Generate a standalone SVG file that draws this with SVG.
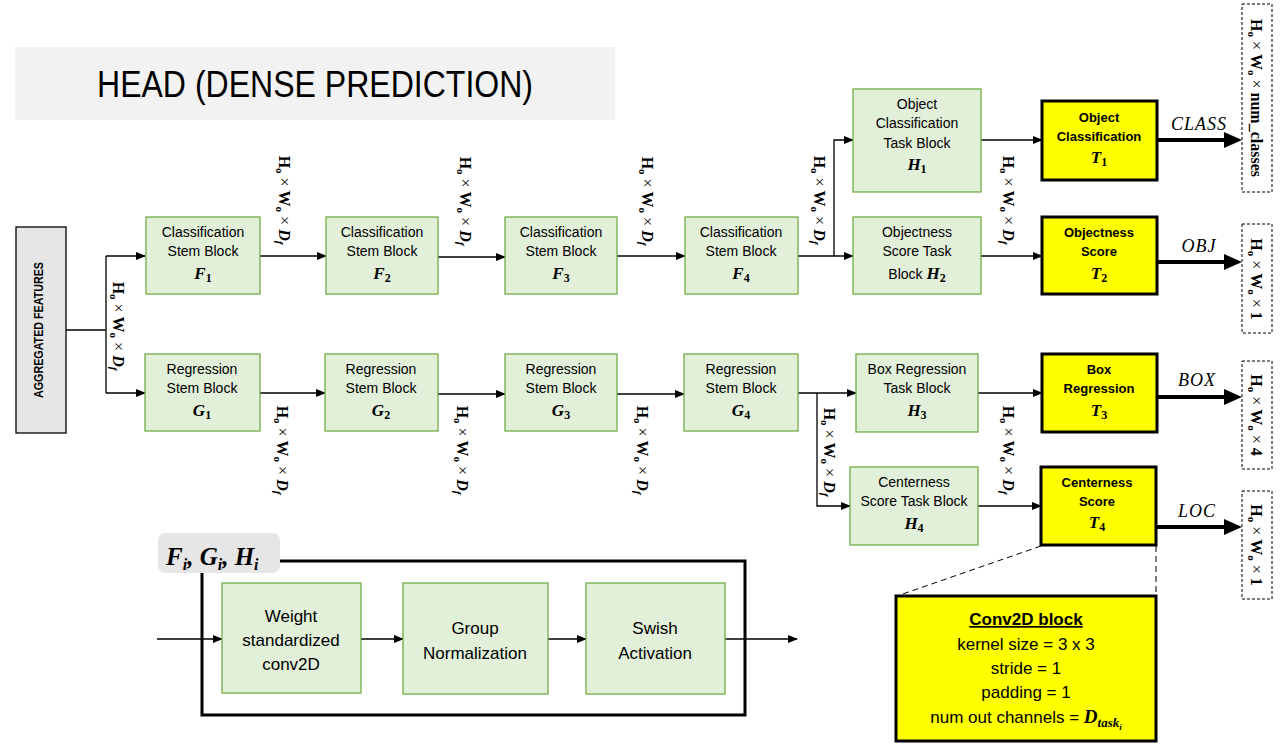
<svg xmlns="http://www.w3.org/2000/svg" width="1288" height="749" viewBox="0 0 1288 749">
<style>
.bg{fill:#ffffff}
.g{fill:#e2efd9;stroke:#70ad47;stroke-width:1.3}
.y{fill:#ffff00;stroke:#000;stroke-width:3}
.t{font-family:"Liberation Sans",Arial,sans-serif;font-size:14px;fill:#000;text-anchor:middle}
.tb{font-family:"Liberation Sans",Arial,sans-serif;font-size:13px;font-weight:bold;fill:#000;text-anchor:middle}
.m{font-family:"Liberation Serif","DejaVu Serif",serif;font-weight:bold;font-style:italic;font-size:17px}
.ms{font-size:12px;font-style:normal}
.dim{font-family:"Liberation Serif","DejaVu Serif",serif;font-weight:bold;font-size:16px;fill:#000;text-anchor:middle}
.s{font-size:11px}
.x{font-weight:normal}
.i{font-style:italic}
.ln{fill:none;stroke:#000;stroke-width:1.3}
.thick{fill:none;stroke:#000;stroke-width:4}
.dash{fill:#fff;stroke:#000;stroke-width:1;stroke-dasharray:3,2}
.lab{font-family:"Liberation Serif","DejaVu Serif",serif;font-style:italic;font-size:18px;fill:#000;text-anchor:middle;letter-spacing:1px}
.big{font-family:"Liberation Sans",Arial,sans-serif;font-size:17px;fill:#000;text-anchor:middle}
</style>
<defs>
<marker id="a" markerWidth="10" markerHeight="8" refX="9" refY="4" orient="auto" markerUnits="userSpaceOnUse"><path d="M0,0 L10,4 L0,8 z" fill="#000"/></marker>
<marker id="A" markerWidth="18" markerHeight="16" refX="4" refY="8" orient="auto" markerUnits="userSpaceOnUse"><path d="M0,0 L18,8 L0,16 z" fill="#000"/></marker>
</defs>
<rect class="bg" x="0" y="0" width="1288" height="749"/>

<g id="title">
<rect x="15" y="47" width="600" height="73" fill="#f2f2f2"/>
<text x="315" y="97" font-family="'Liberation Sans',Arial,sans-serif" font-size="37" text-anchor="middle" textLength="436" lengthAdjust="spacingAndGlyphs">HEAD (DENSE PREDICTION)</text>
</g>

<g id="connectors">
<path class="ln" d="M66,330 H106 M106,256 V393"/>
<path class="ln" d="M106,256 H145" marker-end="url(#a)"/>
<path class="ln" d="M106,393 H145" marker-end="url(#a)"/>
<path class="ln" d="M260,256 H326" marker-end="url(#a)"/>
<path class="ln" d="M438,257 H505" marker-end="url(#a)"/>
<path class="ln" d="M617,256 H685" marker-end="url(#a)"/>
<path class="ln" d="M798,256 H853" marker-end="url(#a)"/>
<path class="ln" d="M834,256 V140 H853" marker-end="url(#a)"/>
<path class="ln" d="M260,393 H325" marker-end="url(#a)"/>
<path class="ln" d="M438,394 H505" marker-end="url(#a)"/>
<path class="ln" d="M617,394 H684" marker-end="url(#a)"/>
<path class="ln" d="M798,393 H856" marker-end="url(#a)"/>
<path class="ln" d="M817,393 V506 H850" marker-end="url(#a)"/>
<path class="ln" d="M981,140 H1042" marker-end="url(#a)"/>
<path class="ln" d="M981,256 H1042" marker-end="url(#a)"/>
<path class="ln" d="M978,393 H1042" marker-end="url(#a)"/>
<path class="ln" d="M978,506 H1041" marker-end="url(#a)"/>
<path class="thick" d="M1157,140 H1228" marker-end="url(#A)"/>
<path class="thick" d="M1157,262 H1228" marker-end="url(#A)"/>
<path class="thick" d="M1157,397 H1228" marker-end="url(#A)"/>
<path class="thick" d="M1157,527 H1228" marker-end="url(#A)"/>
<path fill="none" stroke="#000" stroke-width="1" stroke-dasharray="6,4" d="M1041,546 L897,596 M1156,546 V596"/>
<path class="ln" d="M157,639 H222" marker-end="url(#a)"/>
<path class="ln" d="M361,639 H403" marker-end="url(#a)"/>
<path class="ln" d="M548,639 H586" marker-end="url(#a)"/>
<path class="ln" d="M725,639 H797" marker-end="url(#a)"/>

<text class="dim" transform="translate(113,326) rotate(90)">H<tspan class="s" dy="3">o</tspan><tspan class="x" dy="-3"> × </tspan>W<tspan class="s" dy="3">o</tspan><tspan class="x" dy="-3"> × </tspan><tspan class="i">D</tspan><tspan class="s i" dy="3">f</tspan></text>
<text class="dim" transform="translate(279,200) rotate(90)">H<tspan class="s" dy="3">o</tspan><tspan class="x" dy="-3"> × </tspan>W<tspan class="s" dy="3">o</tspan><tspan class="x" dy="-3"> × </tspan><tspan class="i">D</tspan><tspan class="s i" dy="3">f</tspan></text>
<text class="dim" transform="translate(460,201) rotate(90)">H<tspan class="s" dy="3">o</tspan><tspan class="x" dy="-3"> × </tspan>W<tspan class="s" dy="3">o</tspan><tspan class="x" dy="-3"> × </tspan><tspan class="i">D</tspan><tspan class="s i" dy="3">f</tspan></text>
<text class="dim" transform="translate(642,201) rotate(90)">H<tspan class="s" dy="3">o</tspan><tspan class="x" dy="-3"> × </tspan>W<tspan class="s" dy="3">o</tspan><tspan class="x" dy="-3"> × </tspan><tspan class="i">D</tspan><tspan class="s i" dy="3">f</tspan></text>
<text class="dim" transform="translate(814,200) rotate(90)">H<tspan class="s" dy="3">o</tspan><tspan class="x" dy="-3"> × </tspan>W<tspan class="s" dy="3">o</tspan><tspan class="x" dy="-3"> × </tspan><tspan class="i">D</tspan><tspan class="s i" dy="3">f</tspan></text>
<text class="dim" transform="translate(1003,200) rotate(90)">H<tspan class="s" dy="3">o</tspan><tspan class="x" dy="-3"> × </tspan>W<tspan class="s" dy="3">o</tspan><tspan class="x" dy="-3"> × </tspan><tspan class="i">D</tspan><tspan class="s i" dy="3">f</tspan></text>
<text class="dim" transform="translate(277,450) rotate(90)">H<tspan class="s" dy="3">o</tspan><tspan class="x" dy="-3"> × </tspan>W<tspan class="s" dy="3">o</tspan><tspan class="x" dy="-3"> × </tspan><tspan class="i">D</tspan><tspan class="s i" dy="3">f</tspan></text>
<text class="dim" transform="translate(457,450) rotate(90)">H<tspan class="s" dy="3">o</tspan><tspan class="x" dy="-3"> × </tspan>W<tspan class="s" dy="3">o</tspan><tspan class="x" dy="-3"> × </tspan><tspan class="i">D</tspan><tspan class="s i" dy="3">f</tspan></text>
<text class="dim" transform="translate(637,450) rotate(90)">H<tspan class="s" dy="3">o</tspan><tspan class="x" dy="-3"> × </tspan>W<tspan class="s" dy="3">o</tspan><tspan class="x" dy="-3"> × </tspan><tspan class="i">D</tspan><tspan class="s i" dy="3">f</tspan></text>
<text class="dim" transform="translate(824,452) rotate(90)">H<tspan class="s" dy="3">o</tspan><tspan class="x" dy="-3"> × </tspan>W<tspan class="s" dy="3">o</tspan><tspan class="x" dy="-3"> × </tspan><tspan class="i">D</tspan><tspan class="s i" dy="3">f</tspan></text>
<text class="dim" transform="translate(1003,450) rotate(90)">H<tspan class="s" dy="3">o</tspan><tspan class="x" dy="-3"> × </tspan>W<tspan class="s" dy="3">o</tspan><tspan class="x" dy="-3"> × </tspan><tspan class="i">D</tspan><tspan class="s i" dy="3">f</tspan></text>

<text class="lab" x="1199" y="130">CLASS</text>
<text class="lab" x="1199" y="252">OBJ</text>
<text class="lab" x="1197" y="386">BOX</text>
<text class="lab" x="1197" y="517">LOC</text>
</g>

<g id="agg">
<rect x="16" y="227" width="50" height="206" fill="#e6e6e6" stroke="#000" stroke-width="1.3"/>
<text transform="translate(43,330) rotate(-90)" font-family="'Liberation Sans',Arial,sans-serif" font-size="13" font-weight="bold" text-anchor="middle" textLength="136" lengthAdjust="spacingAndGlyphs">AGGREGATED FEATURES</text>
</g>

<g id="F1"><rect class="g" x="146" y="217" width="114" height="77"/>
<text class="t" x="203" y="237">Classification</text><text class="t" x="203" y="256">Stem Block</text>
<text class="t m" x="203" y="279">F<tspan class="ms" dy="3">1</tspan></text></g>
<g id="F2"><rect class="g" x="326" y="217" width="112" height="77"/>
<text class="t" x="382" y="237">Classification</text><text class="t" x="382" y="256">Stem Block</text>
<text class="t m" x="382" y="279">F<tspan class="ms" dy="3">2</tspan></text></g>
<g id="F3"><rect class="g" x="505" y="217" width="112" height="77"/>
<text class="t" x="561" y="237">Classification</text><text class="t" x="561" y="256">Stem Block</text>
<text class="t m" x="561" y="279">F<tspan class="ms" dy="3">3</tspan></text></g>
<g id="F4"><rect class="g" x="685" y="217" width="113" height="77"/>
<text class="t" x="741" y="237">Classification</text><text class="t" x="741" y="256">Stem Block</text>
<text class="t m" x="741" y="279">F<tspan class="ms" dy="3">4</tspan></text></g>

<g id="G1"><rect class="g" x="145" y="354" width="115" height="77"/>
<text class="t" x="202" y="374">Regression</text><text class="t" x="202" y="393">Stem Block</text>
<text class="t m" x="202" y="416">G<tspan class="ms" dy="3">1</tspan></text></g>
<g id="G2"><rect class="g" x="325" y="354" width="113" height="77"/>
<text class="t" x="381" y="374">Regression</text><text class="t" x="381" y="393">Stem Block</text>
<text class="t m" x="381" y="416">G<tspan class="ms" dy="3">2</tspan></text></g>
<g id="G3"><rect class="g" x="505" y="354" width="112" height="77"/>
<text class="t" x="561" y="374">Regression</text><text class="t" x="561" y="393">Stem Block</text>
<text class="t m" x="561" y="416">G<tspan class="ms" dy="3">3</tspan></text></g>
<g id="G4"><rect class="g" x="684" y="354" width="114" height="77"/>
<text class="t" x="741" y="374">Regression</text><text class="t" x="741" y="393">Stem Block</text>
<text class="t m" x="741" y="416">G<tspan class="ms" dy="3">4</tspan></text></g>

<g id="H1"><rect class="g" x="853" y="89" width="128" height="103"/>
<text class="t" x="917" y="109">Object</text><text class="t" x="917" y="128">Classification</text>
<text class="t" x="917" y="148">Task Block</text>
<text class="t m" x="917" y="170">H<tspan class="ms" dy="3">1</tspan></text></g>
<g id="H2"><rect class="g" x="853" y="217" width="128" height="77"/>
<text class="t" x="917" y="237">Objectness</text><text class="t" x="917" y="256">Score Task</text>
<text class="t" x="917" y="279">Block <tspan class="m">H<tspan class="ms" dy="3">2</tspan></tspan></text></g>
<g id="H3"><rect class="g" x="856" y="354" width="122" height="78"/>
<text class="t" x="917" y="374">Box Regression</text><text class="t" x="917" y="393">Task Block</text>
<text class="t m" x="917" y="416">H<tspan class="ms" dy="3">3</tspan></text></g>
<g id="H4"><rect class="g" x="850" y="467" width="128" height="78"/>
<text class="t" x="914" y="487">Centerness</text><text class="t" x="914" y="506">Score Task Block</text>
<text class="t m" x="914" y="529">H<tspan class="ms" dy="3">4</tspan></text></g>

<g id="T1"><rect class="y" x="1042" y="101" width="115" height="79"/>
<text class="tb" x="1099" y="122">Object</text><text class="tb" x="1099" y="141">Classification</text>
<text class="t m" x="1099" y="163">T<tspan class="ms" dy="3">1</tspan></text></g>
<g id="T2"><rect class="y" x="1042" y="217" width="115" height="77"/>
<text class="tb" x="1099" y="237">Objectness</text><text class="tb" x="1099" y="256">Score</text>
<text class="t m" x="1099" y="279">T<tspan class="ms" dy="3">2</tspan></text></g>
<g id="T3"><rect class="y" x="1042" y="354" width="115" height="78"/>
<text class="tb" x="1099" y="374">Box</text><text class="tb" x="1099" y="393">Regression</text>
<text class="t m" x="1099" y="416">T<tspan class="ms" dy="3">3</tspan></text></g>
<g id="T4"><rect class="y" x="1041" y="467" width="115" height="78"/>
<text class="tb" x="1097" y="487">Centerness</text><text class="tb" x="1097" y="506">Score</text>
<text class="t m" x="1097" y="528">T<tspan class="ms" dy="3">4</tspan></text></g>

<g id="out1"><rect class="dash" x="1242" y="4" width="30" height="188"/>
<text class="dim" transform="translate(1251,98) rotate(90)">H<tspan class="s" dy="3">o</tspan><tspan class="x" dy="-3"> × </tspan>W<tspan class="s" dy="3">o</tspan><tspan class="x" dy="-3"> × </tspan>num_classes</text></g>
<g id="out2"><rect class="dash" x="1242" y="224" width="30" height="109"/>
<text class="dim" transform="translate(1251,279) rotate(90)">H<tspan class="s" dy="3">o</tspan><tspan class="x" dy="-3"> × </tspan>W<tspan class="s" dy="3">o</tspan><tspan class="x" dy="-3"> × </tspan>1</text></g>
<g id="out3"><rect class="dash" x="1242" y="361" width="30" height="108"/>
<text class="dim" transform="translate(1251,415) rotate(90)">H<tspan class="s" dy="3">o</tspan><tspan class="x" dy="-3"> × </tspan>W<tspan class="s" dy="3">o</tspan><tspan class="x" dy="-3"> × </tspan>4</text></g>
<g id="out4"><rect class="dash" x="1242" y="491" width="30" height="108"/>
<text class="dim" transform="translate(1251,545) rotate(90)">H<tspan class="s" dy="3">o</tspan><tspan class="x" dy="-3"> × </tspan>W<tspan class="s" dy="3">o</tspan><tspan class="x" dy="-3"> × </tspan>1</text></g>

<g id="conv2d"><rect class="y" x="896" y="596" width="260" height="145"/>
<text class="big" x="1026" y="625" font-weight="bold" text-decoration="underline">Conv2D block</text>
<text class="big" x="1026" y="650">kernel size = 3 x 3</text>
<text class="big" x="1026" y="674">stride = 1</text>
<text class="big" x="1026" y="698">padding = 1</text>
<text class="big" x="1026" y="723">num out channels = <tspan font-family="'Liberation Serif','DejaVu Serif',serif" font-weight="bold" font-style="italic" font-size="19">D</tspan><tspan font-family="'Liberation Serif','DejaVu Serif',serif" font-weight="bold" font-style="italic" font-size="13" dy="4">task</tspan><tspan font-family="'Liberation Serif','DejaVu Serif',serif" font-weight="bold" font-style="italic" font-size="9" dy="3">i</tspan></text>
</g>

<g id="block">
<rect x="202" y="561" width="543" height="154" fill="none" stroke="#000" stroke-width="3"/>
<rect x="158" y="533" width="122" height="40" rx="7" fill="#e6e6e6"/>
<text x="166" y="565" font-family="'Liberation Serif','DejaVu Serif',serif" font-weight="bold" font-style="italic" font-size="25">F<tspan font-size="16" dy="5">i</tspan><tspan dy="-5">, G</tspan><tspan font-size="16" dy="5">i</tspan><tspan dy="-5">, H</tspan><tspan font-size="16" dy="5">i</tspan></text>
</g>
<g id="wsconv"><rect class="g" x="222" y="583" width="139" height="110" stroke-width="2"/>
<text class="big" x="291" y="622">Weight</text><text class="big" x="291" y="646">standardized</text><text class="big" x="291" y="670">conv2D</text></g>
<g id="gn"><rect class="g" x="403" y="583" width="145" height="111" stroke-width="2"/>
<text class="big" x="475" y="634">Group</text><text class="big" x="475" y="659">Normalization</text></g>
<g id="swish"><rect class="g" x="586" y="583" width="139" height="111" stroke-width="2"/>
<text class="big" x="655" y="634">Swish</text><text class="big" x="655" y="659">Activation</text></g>
</svg>
